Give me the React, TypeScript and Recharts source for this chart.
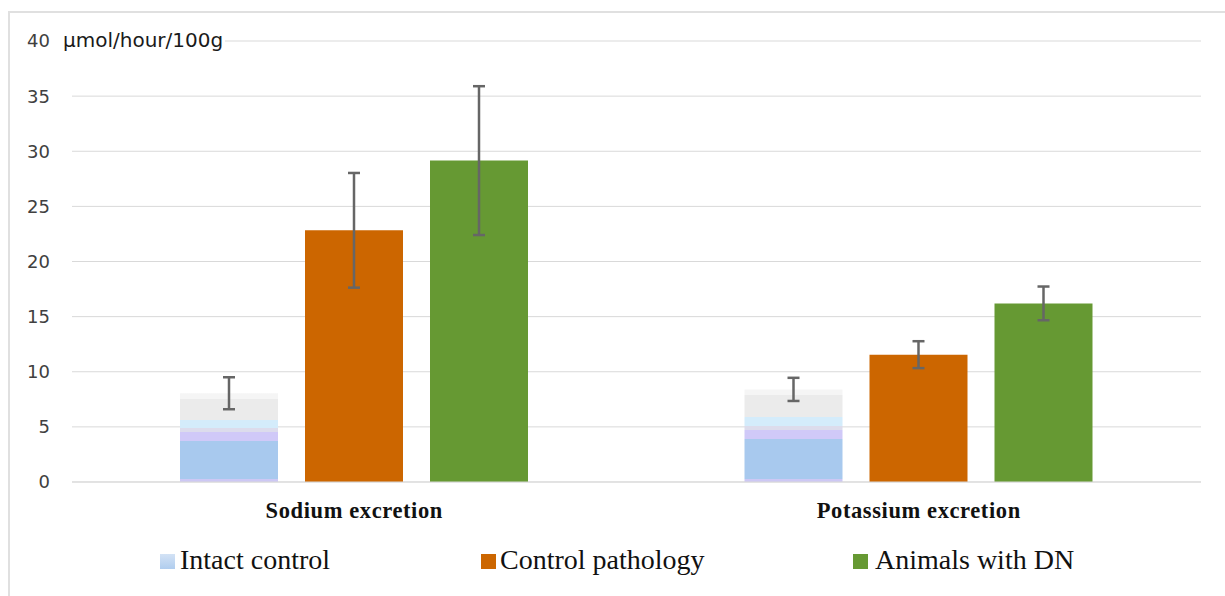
import React from 'react';
import { BarChart, Bar, XAxis, YAxis, CartesianGrid, ErrorBar } from 'recharts';

const categories = ['Sodium excretion', 'Potassium excretion'];
const intactControl = [8.05, 8.4];
const intactControlErr = [1.45, 1.05];
const controlPathology = [22.83, 11.55];
const controlPathologyErr = [5.2, 1.22];
const animalsDN = [29.15, 16.2];
const animalsDNErr = [6.75, 1.53];
const yTicks = [0, 5, 10, 15, 20, 25, 30, 35, 40];
const seriesNames = ['Intact control', 'Control pathology', 'Animals with DN'];
const unitLabel = 'µmol/hour/100g';

const data = categories.map((c, i) => ({
  name: c,
  intact: intactControl[i],
  intactErr: intactControlErr[i],
  control: controlPathology[i],
  controlErr: controlPathologyErr[i],
  dn: animalsDN[i],
  dnErr: animalsDNErr[i],
}));

const ORANGE = '#CC6600';
const GREEN = '#669933';
const ERR = '#666666';

const XTick = (props: any) => {
  const { x, y, payload } = props;
  return (
    <text
      x={x}
      y={y + 36}
      textAnchor="middle"
      fontFamily="'Liberation Serif', serif"
      fontWeight="bold"
      fontSize={22.5}
      letterSpacing={0.6}
      fill="#111"
    >
      {payload.value}
    </text>
  );
};

const legendItems = [
  { name: seriesNames[0], color: 'linear-gradient(#d3e2f5, #b0cdee)', sq: 160, tx: 180 },
  { name: seriesNames[1], color: ORANGE, sq: 481, tx: 500 },
  { name: seriesNames[2], color: GREEN, sq: 853, tx: 875 },
];

export default function App() {
  return (
    <div style={{ position: 'absolute', left: 0, top: 0, width: 1225, height: 596, background: '#fff' }}>
      <div
        style={{
          position: 'absolute',
          left: 8,
          top: 11,
          width: 1217,
          height: 585,
          borderTop: '2px solid #e0e0e0',
          borderLeft: '2px solid #e0e0e0',
          boxSizing: 'border-box',
        }}
      />
      <div style={{ position: 'absolute', left: 0, top: 0 }}>
        <BarChart
          width={1225}
          height={596}
          data={data}
          margin={{ top: 41, right: 24, left: 0, bottom: 74 }}
          barSize={98}
          barGap={27}
        >
          <defs>
            <linearGradient id="intactGrad" x1="0" y1="0" x2="0" y2="1">
              <stop offset="0" stopColor="#f5f5f5" />
              <stop offset="0.06" stopColor="#f5f5f5" />
              <stop offset="0.06" stopColor="#ebebeb" />
              <stop offset="0.30" stopColor="#ebebeb" />
              <stop offset="0.30" stopColor="#d4ecfb" />
              <stop offset="0.39" stopColor="#d4ecfb" />
              <stop offset="0.39" stopColor="#dcdcec" />
              <stop offset="0.44" stopColor="#dcdcec" />
              <stop offset="0.44" stopColor="#d0c9f8" />
              <stop offset="0.54" stopColor="#d0c9f8" />
              <stop offset="0.54" stopColor="#a8c9ee" />
              <stop offset="0.965" stopColor="#a8c9ee" />
              <stop offset="0.965" stopColor="#cdc8f4" />
              <stop offset="1" stopColor="#cdc8f4" />
            </linearGradient>
          </defs>
          <CartesianGrid vertical={false} stroke="#d9d9d9" />
          <XAxis
            dataKey="name"
            height={40}
            tickLine={false}
            tickSize={0}
            tickMargin={0}
            axisLine={{ stroke: '#d9d9d9' }}
            tick={<XTick />}
            interval={0}
          />
          <YAxis
            width={72}
            domain={[0, 40]}
            ticks={yTicks}
            interval={0}
            tickLine={false}
            axisLine={false}
            tickSize={0}
            tickMargin={22}
            tick={{ fontFamily: "'DejaVu Sans', sans-serif", fontSize: 18, fill: '#404040' }}
          />
          <Bar dataKey="intact" fill="url(#intactGrad)" isAnimationActive={false}>
            <ErrorBar dataKey="intactErr" width={6} strokeWidth={2.5} stroke={ERR} direction="y" />
          </Bar>
          <Bar dataKey="control" fill={ORANGE} isAnimationActive={false}>
            <ErrorBar dataKey="controlErr" width={6} strokeWidth={2.5} stroke={ERR} direction="y" />
          </Bar>
          <Bar dataKey="dn" fill={GREEN} isAnimationActive={false}>
            <ErrorBar dataKey="dnErr" width={6} strokeWidth={2.5} stroke={ERR} direction="y" />
          </Bar>
        </BarChart>
      </div>
      <div
        style={{
          position: 'absolute',
          left: 61,
          top: 28,
          background: '#fff',
          padding: '0 2px',
          fontFamily: "'DejaVu Sans', sans-serif",
          fontSize: 20,
          lineHeight: '24px',
          color: '#1a1a1a',
        }}
      >
        {unitLabel}
      </div>
      {legendItems.map((it) => (
        <React.Fragment key={it.name}>
          <div
            style={{
              position: 'absolute',
              left: it.sq,
              top: 554,
              width: 15,
              height: 15,
              background: it.color,
            }}
          />
          <div
            style={{
              position: 'absolute',
              left: it.tx,
              top: 543,
              fontFamily: "'Liberation Serif', serif",
              fontSize: 28,
              lineHeight: '34px',
              color: '#111',
              whiteSpace: 'nowrap',
            }}
          >
            {it.name}
          </div>
        </React.Fragment>
      ))}
    </div>
  );
}
